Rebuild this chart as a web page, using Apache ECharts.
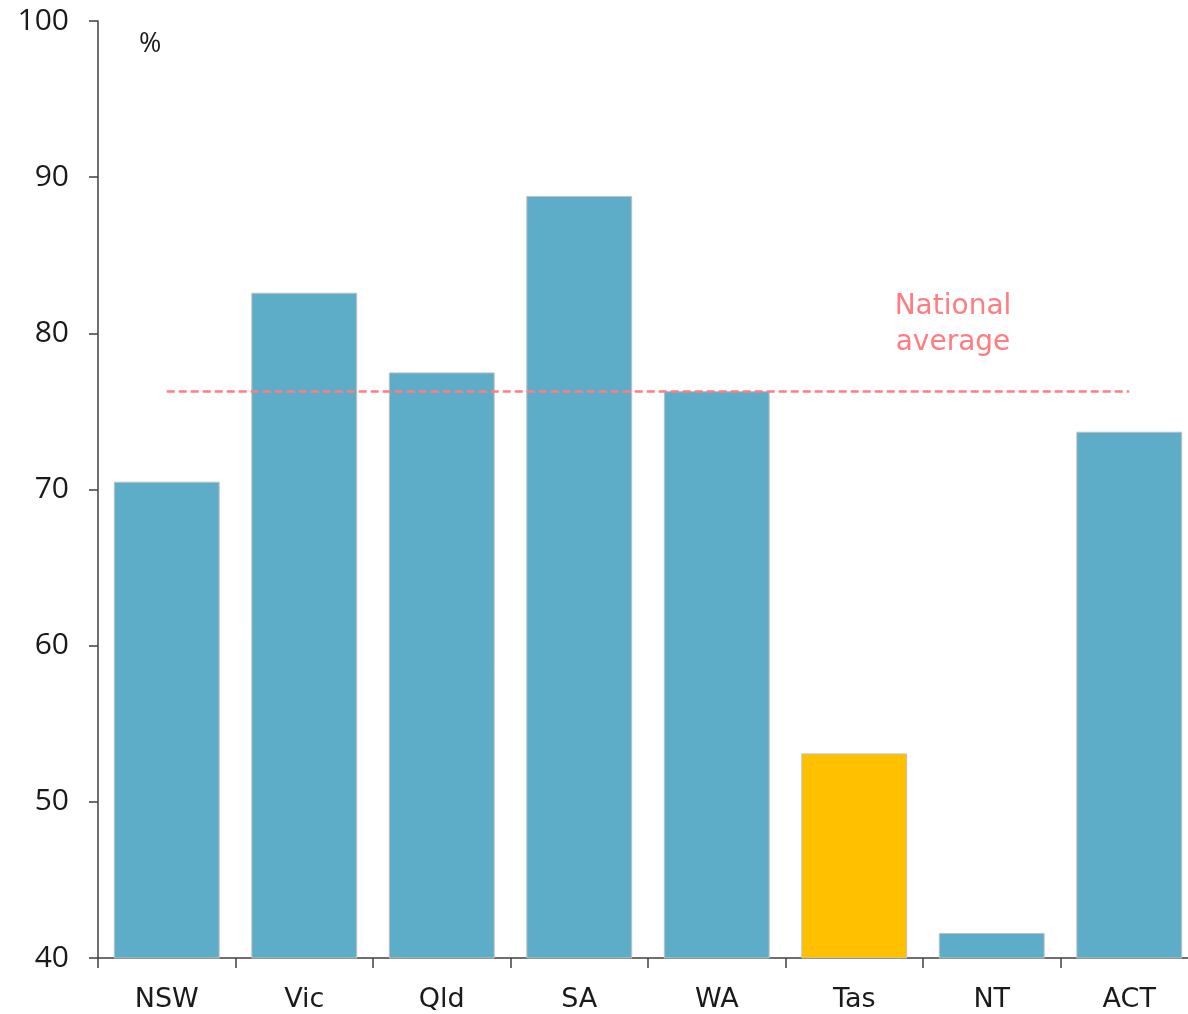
<!DOCTYPE html>
<html>
<head>
<meta charset="utf-8">
<script src="https://cdn.jsdelivr.net/npm/echarts@6/dist/echarts.min.js"></script>
<style>
  html, body { margin: 0; padding: 0; background: #fff; }
  #chart { width: 1188px; height: 1014px; }
</style>
</head>
<body>
<div id="chart"></div>
<script>
// States and territories
const states = ['NSW', 'Vic', 'Qld', 'SA', 'WA', 'Tas', 'NT', 'ACT'];
// Share by state, per cent
const shares = [70.5, 82.6, 77.5, 88.8, 76.3, 53.1, 41.6, 73.7];
// National average, per cent
const nationalAverage = 76.3;
// State drawn in the highlight colour
const highlighted = 'Tas';
// Value axis ticks
const yTicks = [40, 50, 60, 70, 80, 90, 100];

const BLUE = '#5DADC9';
const GOLD = '#FFC000';
const RED = '#FF7C80';
const xFont = '"DejaVu Sans", sans-serif';
const yFont = '"Open Sans", sans-serif';

const chart = echarts.init(document.getElementById('chart'), null, { renderer: 'canvas' });

chart.setOption({
  animation: false,
  backgroundColor: '#ffffff',
  grid: { left: 98, top: 21, bottom: 56, width: 1100, outerBoundsMode: 'none', containLabel: false },
  xAxis: {
    type: 'category',
    data: states,
    axisLine: { lineStyle: { color: '#404040', width: 1.5 } },
    axisTick: { show: true, length: 10, lineStyle: { color: '#404040', width: 1.5 } },
    axisLabel: { color: '#1a1a1a', fontSize: 27, fontFamily: xFont, margin: 28 },
    splitLine: { show: false }
  },
  yAxis: {
    type: 'value',
    min: yTicks[0],
    max: yTicks[yTicks.length - 1],
    interval: yTicks[1] - yTicks[0],
    axisLine: { show: true, lineStyle: { color: '#404040', width: 1.5 } },
    axisTick: { show: true, length: 9, lineStyle: { color: '#404040', width: 1.5 } },
    axisLabel: { color: '#1a1a1a', fontSize: 30, fontFamily: yFont, margin: 29 },
    splitLine: { show: false }
  },
  series: [{
    type: 'bar',
    barCategoryGap: '23%',
    data: shares.map((v, i) => ({
      value: v,
      itemStyle: { color: states[i] === highlighted ? GOLD : BLUE }
    })),
    itemStyle: { borderColor: '#C0C0C0', borderWidth: 1 },
    markLine: {
      silent: true,
      symbol: ['none', 'none'],
      label: { show: false },
      lineStyle: { color: RED, type: [8, 4], width: 2.5 },
      data: [[
        { coord: [states[0], nationalAverage] },
        { coord: [states[states.length - 1], nationalAverage] }
      ]]
    }
  }],
  graphic: [
    {
      type: 'text',
      x: 139, y: 31,
      style: { text: '%', fontSize: 27, fontFamily: yFont, fill: '#1a1a1a' }
    },
    {
      type: 'text',
      x: 953, y: 289,
      style: {
        text: 'National\naverage',
        align: 'center',
        verticalAlign: 'top',
        fontSize: 28,
        lineHeight: 36,
        fontFamily: xFont,
        fill: RED
      }
    }
  ]
});
</script>
</body>
</html>
